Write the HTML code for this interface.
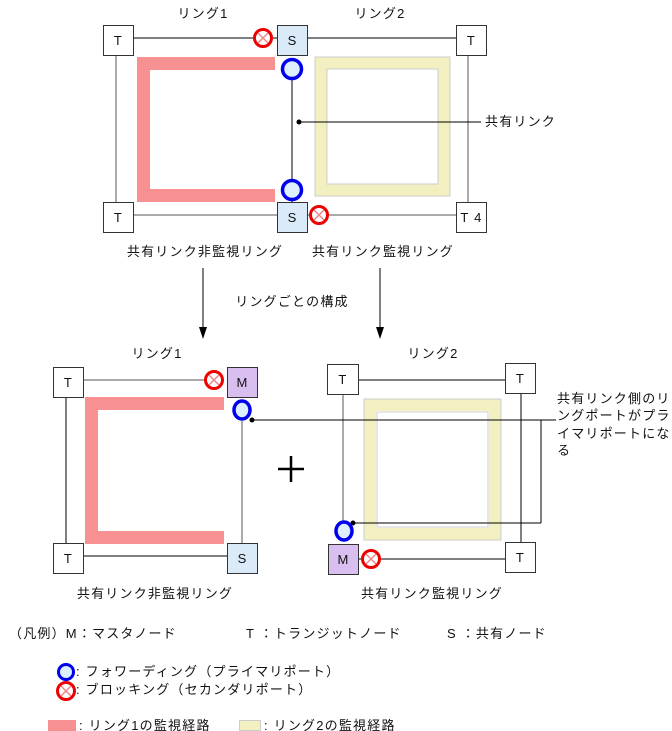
<!DOCTYPE html>
<html><head><meta charset="utf-8"><style>
html,body{margin:0;padding:0;background:#fff;}
svg{display:block;}
text{font-family:"Liberation Sans","Noto Sans CJK JP",sans-serif;font-size:13px;letter-spacing:1.2px;fill:#111;}
</style></head><body>
<svg width="672" height="731" viewBox="0 0 672 731" xmlns="http://www.w3.org/2000/svg">
<defs>
<g id="blk"><circle r="8.5" fill="#fff" stroke="#e00" stroke-width="3"/><path d="M-5,-5L5,5M5,-5L-5,5" stroke="#e88" stroke-width="1.5"/></g>
</defs>

<!-- TOP DIAGRAM -->
<text x="203" y="18" text-anchor="middle">リング1</text>
<text x="380" y="18" text-anchor="middle">リング2</text>
<line x1="133" y1="38" x2="277" y2="38" stroke="#000"/>
<line x1="307" y1="38" x2="456" y2="38" stroke="#000"/>
<line x1="133" y1="215" x2="277" y2="215" stroke="#555"/>
<line x1="307" y1="215" x2="456" y2="215" stroke="#555"/>
<line x1="116" y1="55" x2="116" y2="202" stroke="#555"/>
<line x1="468" y1="55" x2="468" y2="202" stroke="#555"/>
<path d="M275,63.5H143.5V195.5H275" fill="none" stroke="#f79191" stroke-width="13"/>
<rect x="321" y="63" width="123" height="127" fill="none" stroke="#f2f0c0" stroke-width="12"/>
<rect x="315" y="57" width="135" height="139" fill="none" stroke="#ccc" stroke-width="1"/>
<rect x="327" y="69" width="111" height="115" fill="none" stroke="#ccc" stroke-width="1"/>
<line x1="292" y1="79" x2="292" y2="180" stroke="#000"/>
<line x1="292" y1="200" x2="292" y2="202" stroke="#000"/>
<circle cx="299" cy="122" r="2.5"/>
<line x1="299" y1="122" x2="481" y2="122" stroke="#000"/>
<text x="485" y="126">共有リンク</text>
<circle cx="292" cy="69" r="9.5" fill="#ddeeff" stroke="#0000ee" stroke-width="3.5"/>
<circle cx="292" cy="190" r="9.5" fill="#ddeeff" stroke="#0000ee" stroke-width="3.5"/>
<use href="#blk" x="263" y="38"/>
<use href="#blk" x="319" y="215"/>
<rect x="103.5" y="25.5" width="30" height="30" fill="#fff" stroke="#333"/><text x="118.5" y="45" text-anchor="middle">T</text>
<rect x="277.5" y="25.5" width="30" height="30" fill="#daeaf8" stroke="#333"/><text x="292.5" y="45" text-anchor="middle">S</text>
<rect x="456.5" y="25.5" width="30" height="30" fill="#fff" stroke="#333"/><text x="471.5" y="45" text-anchor="middle">T</text>
<rect x="103.5" y="202.5" width="30" height="30" fill="#fff" stroke="#333"/><text x="118.5" y="222" text-anchor="middle">T</text>
<rect x="277.5" y="202.5" width="30" height="30" fill="#daeaf8" stroke="#333"/><text x="292.5" y="222" text-anchor="middle">S</text>
<rect x="456.5" y="202.5" width="30" height="30" fill="#fff" stroke="#333"/><text x="471.5" y="222" text-anchor="middle">T 4</text>

<text x="205" y="256" text-anchor="middle">共有リンク非監視リング</text>
<text x="383" y="256" text-anchor="middle">共有リンク監視リング</text>
<line x1="203" y1="268" x2="203" y2="330" stroke="#000"/>
<path d="M199,327L207,327L203,339Z"/>
<line x1="380" y1="268" x2="380" y2="330" stroke="#000"/>
<path d="M376,327L384,327L380,339Z"/>
<text x="292" y="306" text-anchor="middle">リングごとの構成</text>

<!-- BOTTOM LEFT -->
<text x="157" y="358" text-anchor="middle">リング1</text>
<line x1="83" y1="380" x2="206" y2="380" stroke="#555"/>
<line x1="83" y1="556" x2="227" y2="556" stroke="#000"/>
<line x1="66" y1="397" x2="66" y2="543" stroke="#000"/>
<line x1="242" y1="421" x2="242" y2="543" stroke="#555"/>
<path d="M224,403.5H91.5V537.5H224" fill="none" stroke="#f79191" stroke-width="13"/>
<ellipse cx="242" cy="410" rx="8" ry="9" fill="#ddeeff" stroke="#0000ee" stroke-width="3.5"/>
<use href="#blk" x="214" y="380"/>
<rect x="53.5" y="367.5" width="30" height="30" fill="#fff" stroke="#333"/><text x="68.5" y="387" text-anchor="middle">T</text>
<rect x="227.5" y="367.5" width="30" height="30" fill="#d9bff0" stroke="#333"/><text x="242.5" y="387" text-anchor="middle">M</text>
<rect x="53.5" y="543.5" width="30" height="30" fill="#fff" stroke="#333"/><text x="68.5" y="563" text-anchor="middle">T</text>
<rect x="227.5" y="543.5" width="30" height="30" fill="#daeaf8" stroke="#333"/><text x="242.5" y="563" text-anchor="middle">S</text>
<path d="M291,456V482M278,469H304" stroke="#000" stroke-width="2.5"/>
<text x="155" y="598" text-anchor="middle">共有リンク非監視リング</text>

<!-- BOTTOM RIGHT -->
<text x="433" y="358" text-anchor="middle">リング2</text>
<line x1="359" y1="380" x2="506" y2="380" stroke="#000"/>
<line x1="358" y1="559" x2="506" y2="559" stroke="#000"/>
<line x1="343" y1="395" x2="343" y2="524" stroke="#555"/>
<line x1="521" y1="394" x2="521" y2="543" stroke="#000"/>
<rect x="370" y="405" width="125" height="129" fill="none" stroke="#f2f0c0" stroke-width="12"/>
<rect x="364" y="399" width="137" height="141" fill="none" stroke="#ccc"/>
<rect x="377" y="412" width="111" height="115" fill="none" stroke="#ccc"/>
<line x1="252" y1="420" x2="556" y2="420" stroke="#000"/>
<line x1="541" y1="420" x2="541" y2="523" stroke="#000"/>
<line x1="353" y1="523" x2="541" y2="523" stroke="#000"/>
<circle cx="252" cy="420" r="2.5"/>
<circle cx="353" cy="523" r="2.5"/>
<ellipse cx="344" cy="531" rx="8" ry="9" fill="#ddeeff" stroke="#0000ee" stroke-width="3.5"/>
<use href="#blk" x="371" y="559"/>
<rect x="327.5" y="364.5" width="31" height="30" fill="#fff" stroke="#333"/><text x="343" y="384" text-anchor="middle">T</text>
<rect x="505.5" y="363.5" width="30" height="30" fill="#fff" stroke="#333"/><text x="520.5" y="383" text-anchor="middle">T</text>
<rect x="328.5" y="544.5" width="30" height="30" fill="#d9bff0" stroke="#333"/><text x="343.5" y="564" text-anchor="middle">M</text>
<rect x="505.5" y="542.5" width="30" height="30" fill="#fff" stroke="#333"/><text x="520.5" y="562" text-anchor="middle">T</text>
<text x="557" y="403">共有リンク側のリ</text>
<text x="557" y="420">ングポートがプラ</text>
<text x="557" y="438">イマリポートにな</text>
<text x="557" y="455">る</text>
<text x="432" y="598" text-anchor="middle">共有リンク監視リング</text>

<!-- LEGEND -->
<text x="9" y="638">（凡例）M：マスタノード</text>
<text x="246" y="638">T ：トランジットノード</text>
<text x="447" y="638">S ：共有ノード</text>
<circle cx="66" cy="672" r="7.5" fill="#ddeeff" stroke="#0000ee" stroke-width="3"/>
<text x="76" y="676">: フォワーディング（プライマリポート）</text>
<use href="#blk" x="66" y="691"/>
<text x="76" y="694">: ブロッキング（セカンダリポート）</text>
<rect x="48" y="720" width="28" height="11" fill="#f79191"/>
<text x="79" y="730">: リング1の監視経路</text>
<rect x="239.5" y="720.5" width="21" height="10" fill="#f2f0c0" stroke="#ccc"/>
<text x="264" y="730">: リング2の監視経路</text>
</svg>
</body></html>
